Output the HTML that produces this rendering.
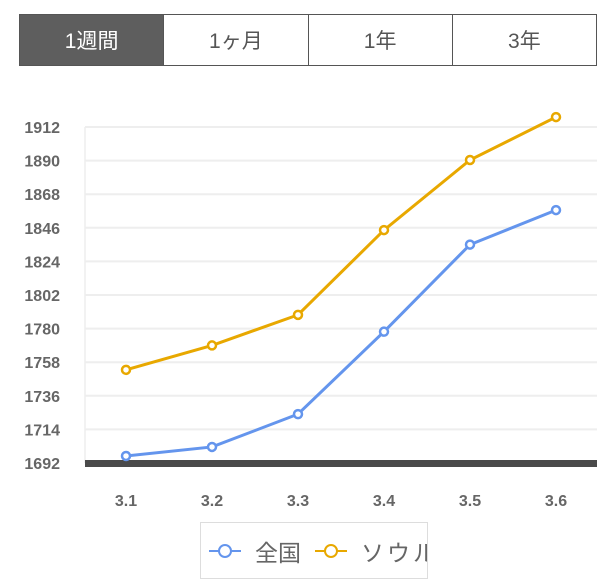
<!DOCTYPE html>
<html><head><meta charset="utf-8"><style>
body{margin:0;width:616px;height:584px;background:#fff;font-family:"Liberation Sans","Noto Sans CJK JP",sans-serif;overflow:hidden;position:relative}
.tabs{position:absolute;left:19px;top:14px;width:578px;height:52px;display:flex;border:1px solid #555;box-sizing:border-box}
.tab{flex:1;display:flex;align-items:center;justify-content:center;font-size:21px;color:#555;border-left:1px solid #555}
.tab:first-child{border-left:none;background:#5e5e5e;color:#fff}
svg{position:absolute;left:0;top:0}
.legend{position:absolute;left:200px;top:522px;width:228px;height:57px;border:1px solid #ddd;box-sizing:border-box;overflow:hidden;white-space:nowrap;display:flex;align-items:center;padding-left:6px;font-size:23px;color:#666}
</style></head><body>
<div class="tabs">
<div class="tab">1週間</div>
<div class="tab">1ヶ月</div>
<div class="tab">1年</div>
<div class="tab">3年</div>
</div>
<svg id="chart" width="616" height="584"></svg>
<div class="legend">
<svg width="36" height="20" style="position:static;flex:none"><line x1="2" y1="10" x2="34" y2="10" stroke="#6495ed" stroke-width="2"/><circle cx="18" cy="10" r="6" fill="#fff" stroke="#6495ed" stroke-width="2"/></svg>
<span style="margin:0 12px 0 12px">全国</span>
<svg width="36" height="20" style="position:static;flex:none"><line x1="2" y1="10" x2="34" y2="10" stroke="#e8a800" stroke-width="2"/><circle cx="18" cy="10" r="6" fill="#fff" stroke="#e8a800" stroke-width="2"/></svg>
<span style="margin-left:12px;letter-spacing:3px">ソウル</span>
</div>
<script>
const categories=["3.1","3.2","3.3","3.4","3.5","3.6"];
const national=[1696.6,1702.5,1724,1778,1835,1857.6];
const seoul=[1753,1769,1789,1844.5,1890.4,1918.5];
const yTicks=[1692,1714,1736,1758,1780,1802,1824,1846,1868,1890,1912];
const svg=document.getElementById('chart');
const NS='http://www.w3.org/2000/svg';
const yMin=1692,yMax=1912,yB=463,yT=127;
const y=v=>yB-(v-yMin)/(yMax-yMin)*(yB-yT);
const x=i=>126+i*86;
function mk(t,a){const e=document.createElementNS(NS,t);for(const k in a)e.setAttribute(k,a[k]);svg.appendChild(e);return e;}
mk('line',{x1:85,y1:yT,x2:85,y2:yB,stroke:'#f2f2f2','stroke-width':2});
yTicks.forEach(v=>{
 if(v!==yMin){const g=mk('line',{x1:85,x2:597,y1:y(v),y2:y(v),stroke:'#eeeeee','stroke-width':2});
 
 }
 const t=mk('text',{x:60,y:y(v)+6,'text-anchor':'end','font-size':16,'font-weight':'bold',fill:'#666'});
 t.textContent=v;
 
 
});
const ax=mk('rect',{x:85,y:yB-3,width:512,height:7,fill:'#4a4a4a'});


categories.forEach((c,i)=>{
 const t=mk('text',{x:x(i),y:506,'text-anchor':'middle','font-size':16,'font-weight':'bold',fill:'#666'});
 t.textContent=c;
 
 
});
function series(vals,col,name){
 const p=mk('polyline',{points:vals.map((v,i)=>x(i)+','+y(v)).join(' '),fill:'none',stroke:col,'stroke-width':3});
 
 
 vals.forEach((v,i)=>{
  const c=mk('circle',{cx:x(i),cy:y(v),r:4,fill:'#fff',stroke:col,'stroke-width':2.5});
  
  
 });
}
series(national,'#6495ed','national');
series(seoul,'#e8a800','seoul');
</script>
</body></html>
